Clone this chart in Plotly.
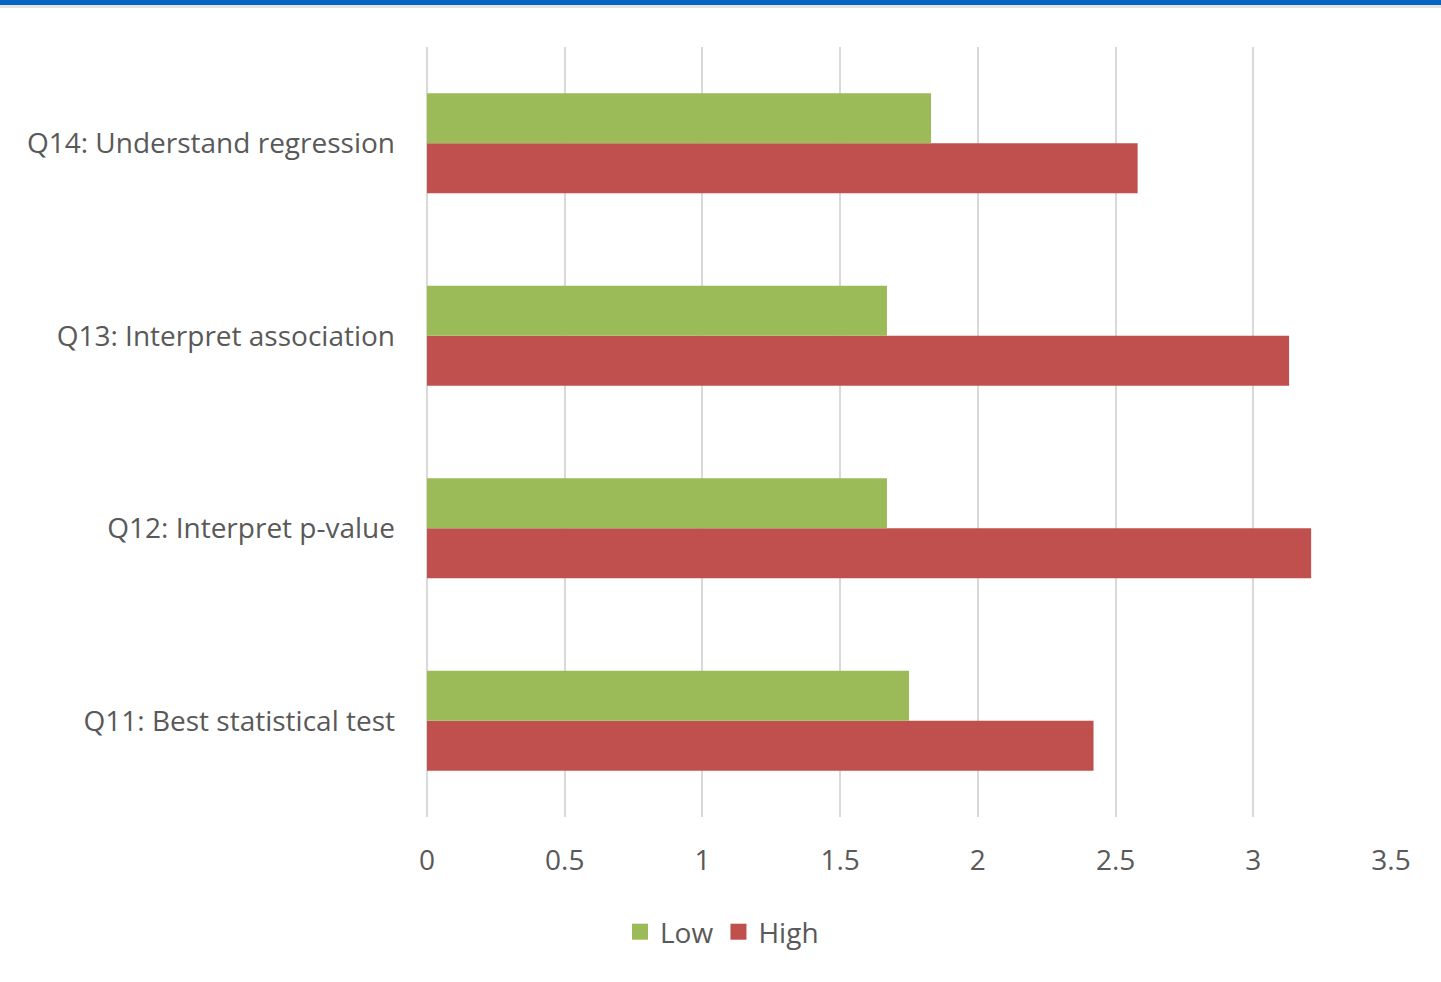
import plotly.graph_objects as go

# Survey items (bottom to top) and mean scores per group
questions = [
    "Q11: Best statistical test",
    "Q12: Interpret p-value",
    "Q13: Interpret association",
    "Q14: Understand regression",
]
low_scores = [1.75, 1.67, 1.67, 1.83]
high_scores = [2.42, 3.21, 3.13, 2.58]
x_ticks = [0, 0.5, 1, 1.5, 2, 2.5, 3, 3.5]
x_tick_labels = ["0", "0.5", "1", "1.5", "2", "2.5", "3", "3.5"]

GREEN = "#9BBB59"
RED = "#C0504D"
TEXT = "#595959"
FONT = "'Open Sans', Lato, sans-serif"

W, H = 1441, 982
M_L, M_R, M_T, M_B = 427, 50, 47, 165
plot_h = H - M_T - M_B

fig = go.Figure()
# High is added first so that Low sits above it within each group
fig.add_trace(go.Bar(y=questions, x=high_scores, name="High", orientation="h",
                     marker=dict(color=RED, line=dict(width=0)), showlegend=False))
fig.add_trace(go.Bar(y=questions, x=low_scores, name="Low", orientation="h",
                     marker=dict(color=GREEN, line=dict(width=0)), showlegend=False))

# Legend entries drawn as square swatches
for name, color in [("Low", GREEN), ("High", RED)]:
    fig.add_trace(go.Scatter(x=[None], y=[None], mode="markers", name=name,
                             marker=dict(symbol="square", size=17, color=color),
                             hoverinfo="skip"))

# Blue header strip with a faint shadow under it
fig.add_shape(type="rect", xref="paper", yref="paper", x0=-1, x1=2,
              y0=1 + (M_T - 8) / plot_h, y1=1 + (M_T - 5) / plot_h,
              fillcolor="#E3E3E3", line=dict(width=0), layer="above")
fig.add_shape(type="rect", xref="paper", yref="paper", x0=-1, x1=2,
              y0=1 + (M_T - 5) / plot_h, y1=1 + (M_T + 5) / plot_h,
              fillcolor="#0563C1", line=dict(width=0), layer="above")

fig.update_layout(
    width=W, height=H,
    margin=dict(l=M_L, r=M_R, t=M_T, b=M_B),
    paper_bgcolor="white", plot_bgcolor="white",
    barmode="group", bargap=0.48, bargroupgap=0,
    font=dict(family=FONT, color=TEXT, size=28),
    showlegend=True,
    legend=dict(orientation="h",
                x=(722 - M_L) / (W - M_L - M_R), xanchor="center",
                y=-(932 - (H - M_B)) / plot_h, yanchor="middle",
                font=dict(size=28, color=TEXT), itemwidth=30,
                itemclick=False, itemdoubleclick=False),
    xaxis=dict(range=[0, 3.5], tickvals=x_ticks, ticktext=x_tick_labels,
               showgrid=True, gridcolor="#D9D9D9", gridwidth=1.5,
               zeroline=True, zerolinecolor="#D9D9D9", zerolinewidth=1.5,
               showline=False, ticks="", ticklabelstandoff=24,
               tickfont=dict(size=28, color=TEXT)),
    yaxis=dict(categoryorder="array", categoryarray=questions,
               showgrid=False, showline=False, ticks="",
               ticklabelstandoff=31, tickfont=dict(size=28, color=TEXT)),
)

fig.write_html("out.html")
